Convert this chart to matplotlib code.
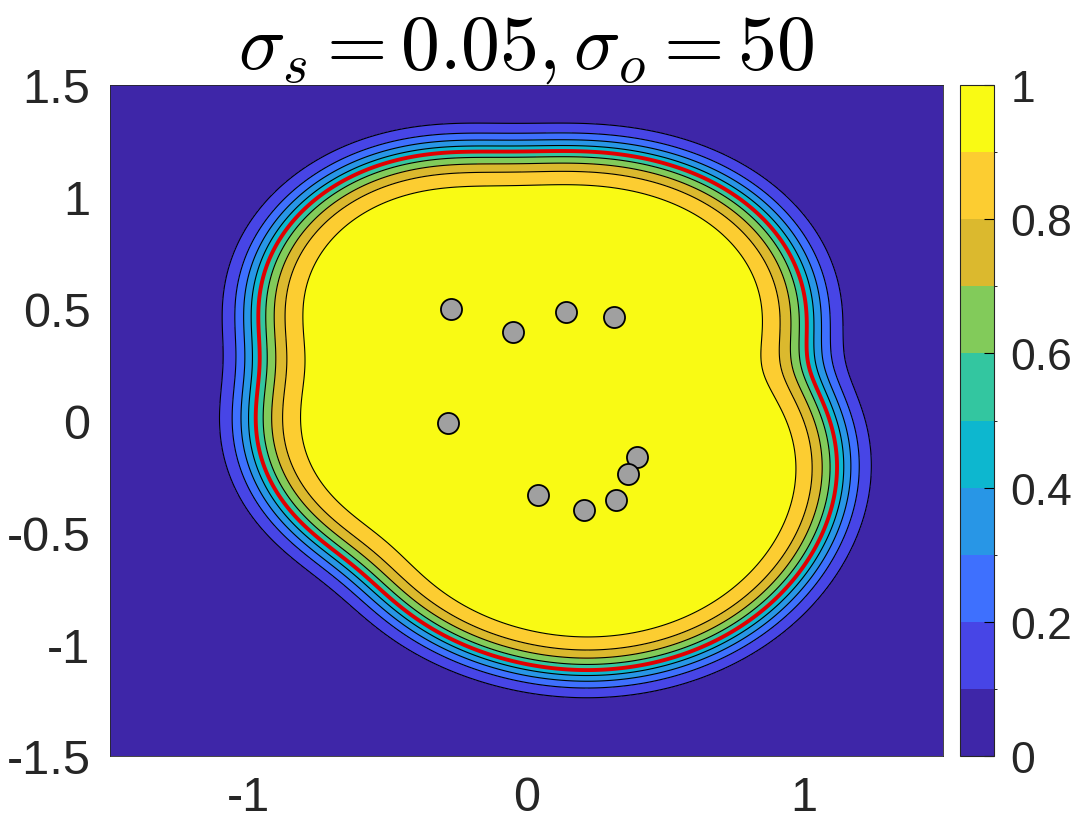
import numpy as np
import matplotlib
matplotlib.use('Agg')
import matplotlib.pyplot as plt
from matplotlib.colors import ListedColormap, BoundaryNorm

plt.rcParams['font.family'] = ['Liberation Sans', 'DejaVu Sans']
plt.rcParams['mathtext.fontset'] = 'cm'
plt.rcParams['axes.unicode_minus'] = False

# =============================================================================
# Data
# =============================================================================
pts_x = [-0.272, -0.049, 0.142, 0.315, -0.283, 0.398, 0.365, 0.322, 0.207, 0.041]
pts_y = [0.500, 0.394, 0.484, 0.461, -0.009, -0.161, -0.237, -0.354, -0.399, -0.331]

levels = [0, 0.1, 0.2, 0.3, 0.4, 0.5, 0.6, 0.7, 0.8, 0.9, 1.0]
band_colors = ['#3E26A8', '#4745E6', '#3E70FE', '#2896E6', '#0DB7CF',
               '#33C6A0', '#82CB5A', '#DBB92E', '#FCCD31', '#F9FA14']
boundary_level = 0.5

xticks = [-1, 0, 1]
yticks = [-1.5, -1, -0.5, 0, 0.5, 1, 1.5]
cticks = [0, 0.2, 0.4, 0.6, 0.8, 1]

# model parameters for the smooth field around the points
ell = 0.2     # kernel length scale
r0 = 0.69     # distance of the 0.5 contour
s = 0.09      # transition width (in squared distance)

# =============================================================================
# Field
# =============================================================================
gx = np.linspace(-1.5, 1.5, 500)
gy = np.linspace(-1.5, 1.5, 500)
X, Y = np.meshgrid(gx, gy)
D2 = np.stack([(X - px)**2 + (Y - py)**2 for px, py in zip(pts_x, pts_y)])
q = -2 * ell**2 * np.log(np.sum(np.exp(-D2 / (2 * ell**2)), axis=0))
F = 1.0 / (1.0 + np.exp((q - r0**2) / s))

# =============================================================================
# Plot
# =============================================================================
fig = plt.figure(figsize=(10.75, 8.28), dpi=100)
ax = fig.add_axes([110/1075, 71/828, 833/1075, 671/828])
cax = fig.add_axes([960/1075, 71/828, 33.5/1075, 671/828])

cmap = ListedColormap(band_colors)
norm = BoundaryNorm(levels, cmap.N)
cf = ax.contourf(X, Y, F, levels=levels, cmap=cmap, norm=norm)
ax.contour(X, Y, F, levels=levels[1:-1], colors='k', linewidths=0.8)
ax.contour(X, Y, F, levels=[boundary_level], colors='#E00000', linewidths=2.8)
ax.scatter(pts_x, pts_y, s=230, c='#A0A0A0', edgecolors='k', linewidths=1.3, zorder=5)

ax.set_xlim(-1.5, 1.5)
ax.set_ylim(-1.5, 1.5)
ax.set_xticks(xticks)
ax.set_xticklabels([str(t) for t in xticks])
ax.set_yticks(yticks)
ax.set_yticklabels(['%g' % t for t in yticks])
ax.tick_params(axis='x', length=0, pad=14, labelsize=35, labelcolor='#262626')
ax.tick_params(axis='y', length=0, pad=14, labelsize=35, labelcolor='#262626')
for sp in ax.spines.values():
    sp.set_linewidth(0.6)
    sp.set_color('#262626')
ax.set_title(r'$\sigma_s = 0.05, \sigma_o = 50$', fontsize=56, pad=8)

cb = fig.colorbar(cf, cax=cax, ticks=cticks)
cb.ax.set_yticklabels(['%g' % t for t in cticks])
cb.ax.tick_params(direction='in', length=7, width=0.8, labelsize=32, pad=12,
                  labelcolor='#262626')
cb.outline.set_linewidth(0.8)
cb.outline.set_edgecolor('#262626')

fig.savefig('out.png', dpi=100)
